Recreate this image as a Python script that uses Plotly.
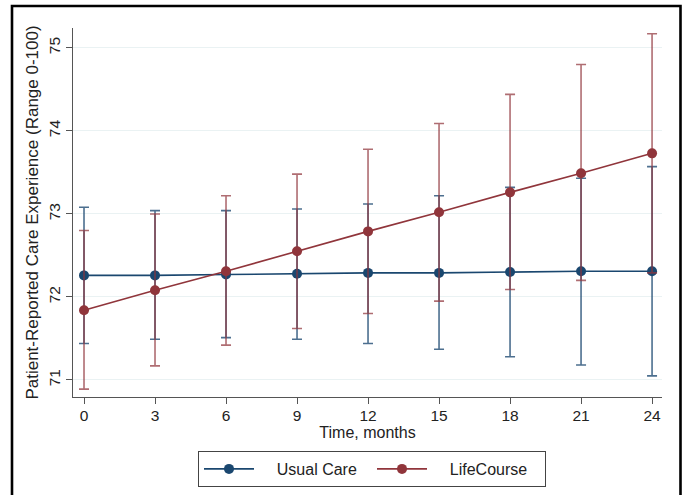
import plotly.graph_objects as go

months = [0, 3, 6, 9, 12, 15, 18, 21, 24]
tick_labels = ["0", "3", "6", "9", "12", "15", "18", "21", "24"]

usual_mean = [72.26, 72.26, 72.27, 72.28, 72.29, 72.29, 72.30, 72.31, 72.31]
usual_lo = [71.44, 71.49, 71.51, 71.49, 71.44, 71.37, 71.28, 71.18, 71.05]
usual_hi = [73.08, 73.04, 73.04, 73.06, 73.12, 73.22, 73.32, 73.43, 73.57]

life_mean = [71.84, 72.08, 72.31, 72.55, 72.79, 73.02, 73.26, 73.49, 73.73]
life_lo = [70.89, 71.17, 71.42, 71.62, 71.80, 71.95, 72.09, 72.20, 72.29]
life_hi = [72.80, 73.00, 73.22, 73.48, 73.78, 74.09, 74.44, 74.80, 75.17]

BLUE = "#1a476f"
RED = "#90353b"
FONT = "Liberation Sans, Arial, sans-serif"
PAD = "\u00a0" * 4

fig = go.Figure()


def add_series(name, mean, lo, hi, color, err_color):
    fig.add_trace(go.Scatter(
        x=months, y=mean, name=PAD + name, mode="lines+markers",
        line=dict(color=color, width=1.6),
        marker=dict(color=color, size=10),
        error_y=dict(
            type="data", symmetric=False,
            array=[h - m for h, m in zip(hi, mean)],
            arrayminus=[m - l for m, l in zip(mean, lo)],
            color=err_color, thickness=1.6, width=5,
        ),
    ))


add_series("Usual Care", usual_mean, usual_lo, usual_hi, BLUE, "rgba(26,71,111,0.78)")
add_series("LifeCourse", life_mean, life_lo, life_hi, RED, "rgba(144,53,59,0.72)")

L, R, T, B = 73, 23, 28, 98
W, H = 685, 495
pw, ph = W - L - R, H - T - B


def px_x(p):
    return (p - L) / pw


def px_y(p):
    return (H - B - p) / ph


fig.add_shape(
    type="rect", xref="paper", yref="paper",
    x0=px_x(12), x1=px_x(680.5),
    y0=px_y(520), y1=px_y(6),
    line=dict(color="black", width=2.6), fillcolor="rgba(0,0,0,0)", layer="above",
)

fig.update_layout(
    width=W, height=H,
    margin=dict(l=L, r=R, t=T, b=B, autoexpand=False),
    paper_bgcolor="white", plot_bgcolor="white",
    font=dict(family=FONT, size=15, color="#222"),
    showlegend=True,
    legend=dict(
        orientation="h", x=px_x(198), xanchor="left",
        y=px_y(451), yanchor="top",
        bordercolor="#444", borderwidth=1, bgcolor="white",
        font=dict(family=FONT, size=16, color="#222"),
        itemwidth=50, entrywidth=108,
    ),
    xaxis=dict(
        range=[-0.465, 24.42], tickmode="array", tickvals=months, ticktext=tick_labels,
        automargin=False,
        showgrid=False, zeroline=False, showline=True, linecolor="#555", linewidth=1,
        ticks="outside", ticklen=6, tickcolor="#555", ticklabelstandoff=-2,
        tickfont=dict(size=15.5), title=dict(text="Time, months", font=dict(size=16), standoff=2),
    ),
    yaxis=dict(
        range=[70.795, 75.24], tickmode="array", tickvals=[71, 72, 73, 74, 75],
        ticktext=["71", "72", "73", "74", "75"], tickangle=-90,
        automargin=False,
        showgrid=True, gridcolor="#eaf2f3", gridwidth=1, zeroline=False,
        showline=True, linecolor="#555", linewidth=1,
        ticks="outside", ticklen=6, tickcolor="#555",
        tickfont=dict(size=15.5),
        title=dict(text="Patient-Reported Care Experience (Range 0-100)", font=dict(size=17), standoff=2),
    ),
)

fig.write_html(
    "out.html",
    config={"displayModeBar": False},
    post_script="document.body.style.margin='0';document.body.style.overflow='hidden';",
)
